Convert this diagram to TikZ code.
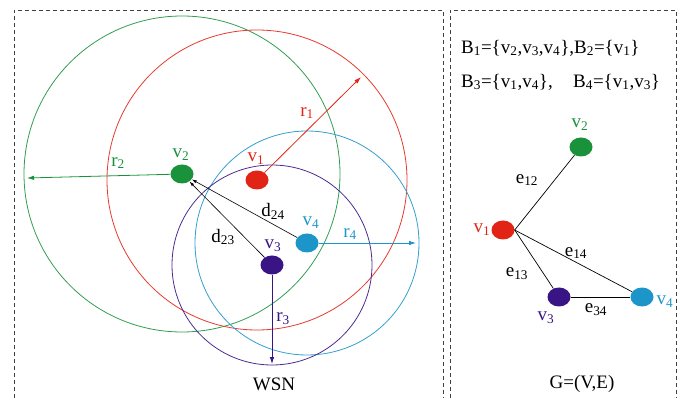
\documentclass[tikz,border=0pt]{standalone}
\usepackage{fontspec}
\setmainfont{Liberation Serif}
\usetikzlibrary{arrows.meta,positioning,shapes.geometric}
\definecolor{wsnRed}{RGB}{226,36,22}
\definecolor{wsnGreen}{RGB}{26,146,60}
\definecolor{wsnBlue}{RGB}{28,150,200}
\definecolor{wsnPurple}{RGB}{56,20,132}
\newcommand{\ix}[2]{#1\textsubscript{#2}}

\begin{document}
\begin{tikzpicture}[x=1pt,y=-1pt,
      dot/.style={ellipse,minimum width=23pt,minimum height=19pt,inner sep=0pt},
      lbl/.style={inner sep=0pt,font=\fontsize{19}{19}\selectfont},
      ring/.style={line width=0.8pt},
      rad/.style={-{Latex[length=7pt,width=4.5pt]},line width=0.8pt},
      dist/.style={-{Latex[length=5pt,width=3pt]},line width=0.6pt},
      edge/.style={line width=0.7pt},
      frame/.style={dash pattern=on 4pt off 3pt,line width=0.7pt,black!75}]
    \useasboundingbox (0,0) rectangle (686,398);
    % panels
    \draw[frame] (14,398) -- (14,10) -- (443,10) -- (443,398);
    \draw[frame] (450,398) -- (450,10) -- (676,10) -- (676,398);

    % WSN: ranges
    \draw[ring,wsnGreen!90] (182,174) circle (158pt);
    \draw[ring,wsnRed!90] (257,180) circle (150pt);
    \draw[ring,wsnBlue!90] (307,243) circle (112pt);
    \draw[ring,wsnPurple!90] (272,265) circle (100pt);

    \node[dot,fill=wsnRed] (v1) at (257,180) {};
    \node[dot,fill=wsnGreen] (v2) at (182,174) {};
    \node[dot,fill=wsnPurple] (v3) at (272,265) {};
    \node[dot,fill=wsnBlue] (v4) at (307,243) {};

    \coordinate (t1) at (361,77);
    \coordinate (t2) at (27,178);
    \coordinate (t3) at (272,364);
    \coordinate (t4) at (416,243);
    \draw[rad,wsnRed] (v1) -- (t1);
    \draw[rad,wsnGreen] (v2) -- (t2);
    \draw[rad,wsnPurple] (v3) -- (t3);
    \draw[rad,wsnBlue] (v4) -- (t4);
    \draw[dist] (v4) -- (v2);
    \draw[dist] (v3) -- (v2);

    \node[lbl,text=wsnRed] (v1l) at (256,159) {\ix{v}{1}};
    \node[lbl,text=wsnGreen] (v2l) at (181,155) {\ix{v}{2}};
    \node[lbl,text=wsnPurple] (v3l) at (273,246) {\ix{v}{3}};
    \node[lbl,text=wsnBlue] (v4l) at (311,223) {\ix{v}{4}};
    \node[lbl,text=wsnRed] (r1l) at (307,113) {\ix{r}{1}};
    \node[lbl,text=wsnGreen] (r2l) at (118,163) {\ix{r}{2}};
    \node[lbl,text=wsnPurple] (r3l) at (283,319) {\ix{r}{3}};
    \node[lbl,text=wsnBlue] (r4l) at (350,234) {\ix{r}{4}};
    \node[lbl] (d24) at (273,211) {\ix{d}{24}};
    \node[lbl] (d23) at (223,237) {\ix{d}{23}};
    \node[lbl] (wsn) at (274,384) {WSN};

    % graph G
    \node[lbl,anchor=west] (b12) at (461,48) {\ix{B}{1}=\{\ix{v}{2},\ix{v}{3},\ix{v}{4}\},\ix{B}{2}=\{\ix{v}{1}\}};
    \node[lbl,anchor=west] (b3) at (461,82) {\ix{B}{3}=\{\ix{v}{1},\ix{v}{4}\},};
    \node[lbl,anchor=west] (b4) at (573,82) {\ix{B}{4}=\{\ix{v}{1},\ix{v}{3}\}};

    \node[dot,fill=wsnRed] (g1) at (503,230) {};
    \node[dot,fill=wsnGreen] (g2) at (581,147) {};
    \node[dot,fill=wsnPurple] (g3) at (559,297) {};
    \node[dot,fill=wsnBlue] (g4) at (642,297) {};
    \draw[edge] (g1.east) -- (g2);
    \draw[edge] (g1.east) -- (g3);
    \draw[edge] (g1.east) -- (g4);
    \draw[edge] (g3) -- (g4);

    \node[lbl,text=wsnRed] (g1l) at (482,230) {\ix{v}{1}};
    \node[lbl,text=wsnGreen] (g2l) at (580,125) {\ix{v}{2}};
    \node[lbl,text=wsnPurple] (g3l) at (546,318) {\ix{v}{3}};
    \node[lbl,text=wsnBlue] (g4l) at (665,302) {\ix{v}{4}};
    \node[lbl] (e12) at (527,180) {\ix{e}{12}};
    \node[lbl] (e14) at (576,253) {\ix{e}{14}};
    \node[lbl] (e13) at (517,274) {\ix{e}{13}};
    \node[lbl] (e34) at (596,310) {\ix{e}{34}};
    \node[lbl] (gve) at (582,384) {G=(V,E)};
  \end{tikzpicture}
\end{document}
